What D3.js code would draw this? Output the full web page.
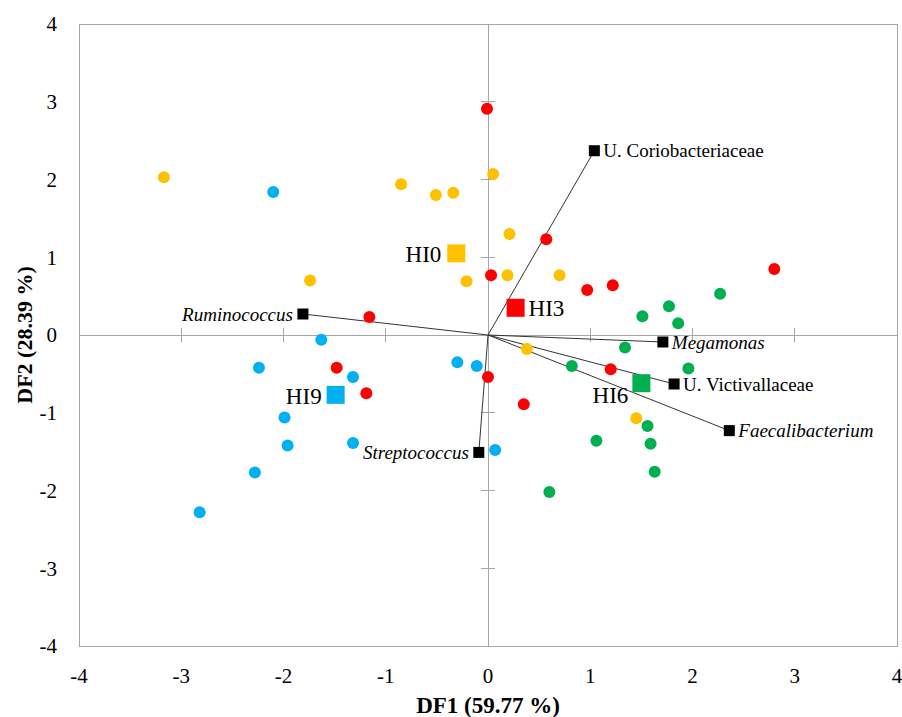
<meta charset="utf-8">
<style>
body { margin: 0; background: #fff; }
text { font-family: "Liberation Serif", "Times New Roman", serif; fill: #000; }
.frame, .zero, .tick-mark { stroke: #a6a6a6; stroke-width: 1; fill: none; shape-rendering: crispEdges; }
.vec-line { stroke: #333; stroke-width: 1; }
</style>
<body>
<div id="chart"></div>
<script src="https://cdn.jsdelivr.net/npm/d3@7"></script>
<script>
// group scores (DF1, DF2)
var hi0Points = [[-3.17,2.03],[-0.85,1.94],[-0.51,1.80],[-0.34,1.83],[0.05,2.07],[-1.74,0.70],
                 [-0.21,0.69],[0.21,1.30],[0.19,0.77],[0.70,0.77],[0.38,-0.18],[1.45,-1.07]];
var hi3Points = [[-0.01,2.91],[0.57,1.23],[0.03,0.77],[0.97,0.58],[1.22,0.64],[2.80,0.85],
                 [-1.16,0.23],[-1.48,-0.42],[-1.19,-0.75],[0.00,-0.54],[0.35,-0.89],[1.20,-0.44]];
var hi6Points = [[2.27,0.53],[1.77,0.37],[1.51,0.24],[1.86,0.15],[1.34,-0.16],[0.82,-0.40],
                 [1.96,-0.43],[1.56,-1.17],[1.06,-1.36],[1.59,-1.40],[1.63,-1.76],[0.60,-2.02]];
var hi9Points = [[-2.10,1.84],[-1.63,-0.06],[-2.24,-0.42],[-1.32,-0.54],[-1.99,-1.06],[-1.96,-1.42],
                 [-1.32,-1.39],[-2.28,-1.77],[-2.82,-2.28],[-0.30,-0.35],[-0.11,-0.40],[0.07,-1.48]];

var groupNames = ["HI0", "HI3", "HI6", "HI9"];
var centroidX = [-0.31, 0.27, 1.50, -1.49];
var centroidY = [1.05, 0.35, -0.62, -0.77];

// structure coefficients (arrows)
var vectorNames = ["U. Coriobacteriaceae", "Ruminococcus", "Megamonas", "U. Victivallaceae", "Faecalibacterium", "Streptococcus"];
var vectorX = [1.04, -1.81, 1.71, 1.82, 2.36, -0.09];
var vectorY = [2.37, 0.27, -0.09, -0.63, -1.23, -1.51];
var vectorItalic = [false, true, true, false, true, true];

var axisTicks = [-4, -3, -2, -1, 0, 1, 2, 3, 4];
var xTitle = "DF1 (59.77 %)";
var yTitle = "DF2 (28.39 %)";

var width = 902, height = 717;
var color = d3.scaleOrdinal().domain(groupNames).range(["#ffc000", "#ff0000", "#00b050", "#00b0f0"]);

var x = d3.scaleLinear().domain([-4, 4]).range([79, 897]);
var y = d3.scaleLinear().domain([-4, 4]).range([646, 24]);

var svg = d3.select("#chart").append("svg")
    .attr("width", width)
    .attr("height", height);

// plot frame
svg.append("rect").attr("class", "frame")
    .attr("x", x(-4)).attr("y", y(4))
    .attr("width", x(4) - x(-4)).attr("height", y(-4) - y(4));

// zero lines with crossing ticks
svg.append("line").attr("class", "zero")
    .attr("x1", x(-4)).attr("x2", x(4)).attr("y1", y(0)).attr("y2", y(0));
svg.append("line").attr("class", "zero")
    .attr("x1", x(0)).attr("x2", x(0)).attr("y1", y(-4)).attr("y2", y(4));

var inner = axisTicks.filter(function(t) { return t !== 0 && Math.abs(t) < 4; });
svg.selectAll(".xt").data(inner).enter().append("line").attr("class", "tick-mark")
    .attr("x1", function(d) { return x(d); }).attr("x2", function(d) { return x(d); })
    .attr("y1", y(0) - 7).attr("y2", y(0) + 7);
svg.selectAll(".yt").data(inner).enter().append("line").attr("class", "tick-mark")
    .attr("y1", function(d) { return y(d); }).attr("y2", function(d) { return y(d); })
    .attr("x1", x(0) - 7).attr("x2", x(0) + 7);

// tick labels along the frame
svg.selectAll(".xl").data(axisTicks).enter().append("text")
    .attr("x", function(d) { return x(d); })
    .attr("y", 683)
    .attr("text-anchor", "middle")
    .style("font-size", "21px")
    .text(function(d) { return d; });
svg.selectAll(".yl").data(axisTicks).enter().append("text")
    .attr("x", 57)
    .attr("y", function(d) { return y(d); })
    .attr("dy", "0.35em")
    .attr("text-anchor", "end")
    .style("font-size", "21px")
    .text(function(d) { return d; });

// axis titles
svg.append("text")
    .attr("x", x(0)).attr("y", 713)
    .attr("text-anchor", "middle")
    .style("font-size", "23px").style("font-weight", "bold")
    .text(xTitle);
svg.append("text")
    .attr("transform", "translate(32," + y(0) + ") rotate(-90)")
    .attr("text-anchor", "middle")
    .style("font-size", "22px").style("font-weight", "bold")
    .text(yTitle);

// vector lines from origin
var vectors = vectorNames.map(function(n, i) {
    return { name: n, x: vectorX[i], y: vectorY[i], italic: vectorItalic[i] };
});
svg.selectAll(".vec-line").data(vectors).enter().append("line").attr("class", "vec-line")
    .attr("x1", x(0)).attr("y1", y(0))
    .attr("x2", function(d) { return x(d.x); })
    .attr("y2", function(d) { return y(d.y); });

// sample dots
var samples = [];
[hi0Points, hi3Points, hi6Points, hi9Points].forEach(function(pts, gi) {
    pts.forEach(function(p) { samples.push({ group: groupNames[gi], x: p[0], y: p[1] }); });
});
svg.selectAll(".dot").data(samples).enter().append("circle")
    .attr("cx", function(d) { return x(d.x); })
    .attr("cy", function(d) { return y(d.y); })
    .attr("r", 6)
    .style("fill", function(d) { return color(d.group); });

// vector end squares and labels
svg.selectAll(".vec-sq").data(vectors).enter().append("rect")
    .attr("x", function(d) { return x(d.x) - 5.5; })
    .attr("y", function(d) { return y(d.y) - 5.5; })
    .attr("width", 11).attr("height", 11)
    .style("fill", "#000");
svg.selectAll(".vec-label").data(vectors).enter().append("text")
    .attr("x", function(d) { return d.x < 0 ? x(d.x) - 10 : x(d.x) + 9; })
    .attr("y", function(d) { return y(d.y); })
    .attr("dy", "0.35em")
    .attr("text-anchor", function(d) { return d.x < 0 ? "end" : "start"; })
    .style("font-size", "19px")
    .style("font-style", function(d) { return d.italic ? "italic" : "normal"; })
    .text(function(d) { return d.name; });

// group centroids
var centroids = groupNames.map(function(g, i) { return { group: g, x: centroidX[i], y: centroidY[i] }; });
svg.selectAll(".cent").data(centroids).enter().append("rect")
    .attr("x", function(d) { return x(d.x) - 9; })
    .attr("y", function(d) { return y(d.y) - 9; })
    .attr("width", 18).attr("height", 18)
    .style("fill", function(d) { return color(d.group); });

// centroid labels: offset depends on side
var labelPos = { HI0: [-15, 9, "end"], HI3: [13, 8, "start"], HI6: [-13, 20, "end"], HI9: [-14, 9, "end"] };
svg.selectAll(".cent-label").data(centroids).enter().append("text")
    .attr("x", function(d) { return x(d.x) + labelPos[d.group][0]; })
    .attr("y", function(d) { return y(d.y) + labelPos[d.group][1]; })
    .attr("text-anchor", function(d) { return labelPos[d.group][2]; })
    .style("font-size", "23px")
    .text(function(d) { return d.group; });
</script>
</body>
